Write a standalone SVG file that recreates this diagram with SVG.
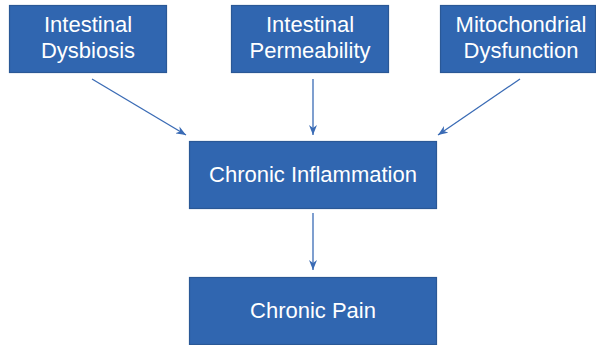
<svg xmlns="http://www.w3.org/2000/svg" width="596" height="345" viewBox="0 0 596 345">
<style>
.box{fill:#3066B0;stroke:#2A5896;stroke-width:1.2}
.t{font-family:"Liberation Sans",Arial,sans-serif;font-size:22px;fill:#fff;text-anchor:middle}
.c{stroke:#3A6BB5;stroke-width:1.3;fill:none;marker-end:url(#ah)}
</style>
<defs>
<marker id="ah" viewBox="0 0 10 8" refX="10" refY="4" markerWidth="10" markerHeight="8" markerUnits="userSpaceOnUse" orient="auto">
<path d="M0,0 L10,4 L0,8 L3,4 Z" fill="#3A6BB5"/>
</marker>
</defs>
<rect width="596" height="345" fill="#fff"/>
<g id="connectors">
<line class="c" x1="92" y1="79" x2="186" y2="135"/>
<line class="c" x1="313" y1="79" x2="313" y2="135"/>
<line class="c" x1="520" y1="79" x2="438" y2="135"/>
<line class="c" x1="313" y1="213" x2="313" y2="270"/>
</g>
<g id="n1"><rect class="box" x="9.5" y="5.5" width="157" height="67"/><text class="t" x="88" y="32">Intestinal</text><text class="t" x="88" y="58">Dysbiosis</text></g>
<g id="n2"><rect class="box" x="231.5" y="5.5" width="157" height="67"/><text class="t" x="310" y="32">Intestinal</text><text class="t" x="310" y="58">Permeability</text></g>
<g id="n3"><rect class="box" x="440.5" y="5.5" width="155" height="67"/><text class="t" x="521" y="32">Mitochondrial</text><text class="t" x="521" y="58">Dysfunction</text></g>
<g id="n4"><rect class="box" x="189.5" y="141.5" width="247" height="67"/><text class="t" x="313" y="182">Chronic Inflammation</text></g>
<g id="n5"><rect class="box" x="189.5" y="277.5" width="247" height="67"/><text class="t" x="313" y="318">Chronic Pain</text></g>
</svg>
